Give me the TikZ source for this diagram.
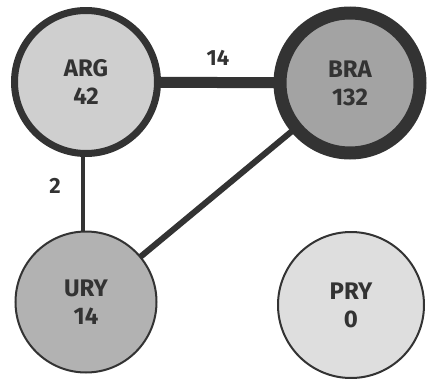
\documentclass[tikz,border=0pt]{standalone}
\usepackage{fontspec}
\setmainfont{Fira Sans}
\usetikzlibrary{backgrounds}
\definecolor{ink}{HTML}{333333}
\begin{document}
\begin{tikzpicture}[x=1pt,y=-1pt,
  country/.style={circle,draw=ink,text=ink,align=center,inner sep=0pt,
    font=\fontsize{24}{28}\selectfont\bfseries},
  link/.style={draw=ink,line cap=butt},
  weight/.style={text=ink,font=\fontsize{22}{24}\selectfont\bfseries}]
\useasboundingbox (0,0) rectangle (434,378);
\node[country,line width=7pt,minimum size=143pt,fill=black!19] (arg) at (86,82) {ARG\\42};
\node[country,line width=13pt,minimum size=140pt,fill=black!36] (bra) at (350,83) {BRA\\132};
\node[country,line width=2pt,minimum size=141pt,fill=black!30] (ury) at (86,302) {URY\\14};
\node[country,line width=2pt,minimum size=146pt,fill=black!13] (pry) at (351,305) {PRY\\0};
\begin{pgfonlayer}{background}
\draw[link,line width=11pt] (arg.center) -- (bra.center);
\draw[link,line width=4pt] ([xshift=-3pt]arg.center) -- ([xshift=-3pt]ury.center);
\draw[link,line width=6pt] (bra.center) -- (ury.center);
\end{pgfonlayer}
\node[weight] (w1) at (218,58) {14};
\node[weight] (w2) at (55,186) {2};
\end{tikzpicture}
\end{document}
